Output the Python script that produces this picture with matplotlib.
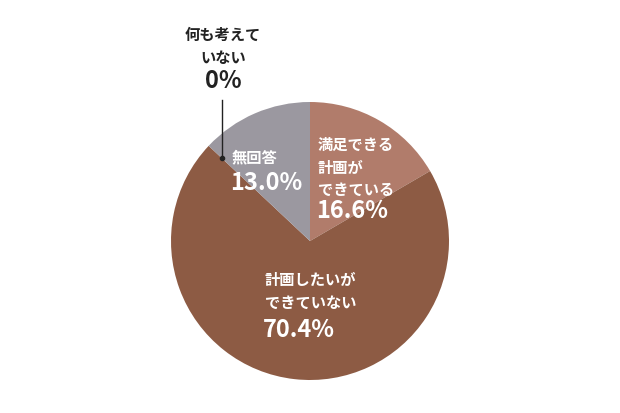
import matplotlib
matplotlib.use("Agg")
import matplotlib.pyplot as plt

plt.rcParams['font.family'] = ['Noto Sans CJK JP', 'DejaVu Sans']

# data, clockwise from 12 o'clock
labels = ["満足できる\n計画が\nできている", "計画したいが\nできていない", "無回答", "何も考えて\nいない"]
values = [16.6, 70.4, 13.0, 0.0]
pct_text = ["16.6%", "70.4%", "13.0%", "0%"]
colors = ["#b17c6b", "#8d5b44", "#9b98a0", "#333333"]

W, H = 620, 413
fig = plt.figure(figsize=(W / 100, H / 100), dpi=100)
ax = fig.add_axes([0, 0, 1, 1])

cx, cy, r = 310, H - 241, 139
ax.pie(values, colors=colors, startangle=90, counterclock=False,
       center=(cx, cy), radius=r, frame=True,
       wedgeprops=dict(linewidth=0))
ax.set_xlim(0, W)
ax.set_ylim(0, H)
ax.set_aspect('equal')
ax.axis('off')

def py(y):
    return H - y

small = 11
big = 17
pitch = 22.5

def label_block(x, y0, text, pct_y, pct, color, ha='left'):
    for i, line in enumerate(text.split("\n")):
        ax.text(x, py(y0 + i * pitch), line, color=color, fontsize=small,
                fontweight='bold', ha=ha, va='center')
    ax.text(x - (2 if ha == 'left' else 0), py(pct_y), pct, color=color,
            fontsize=big, fontweight='bold', ha=ha, va='center')

label_block(318, 145, labels[0], 211, pct_text[0], 'white')
label_block(265, 280, labels[1], 330, pct_text[1], 'white')
label_block(232, 157, labels[2], 183, pct_text[2], 'white')
label_block(223, 35, labels[3], 81, pct_text[3], '#222222', ha='center')

# leader line for the 0% slice
ax.plot([222, 222], [py(100), py(158)], color='#222222', linewidth=1)
ax.plot([222], [py(158)], 'o', color='#222222', markersize=3)

fig.savefig("out.png", dpi=100, facecolor='white')
